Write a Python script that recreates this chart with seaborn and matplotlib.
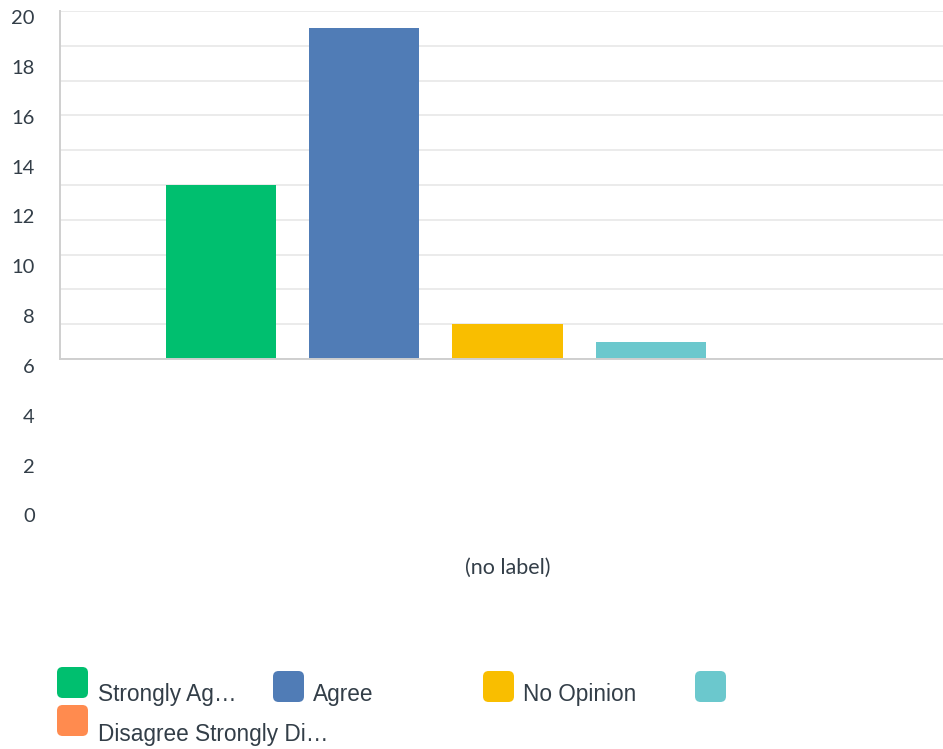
import matplotlib
matplotlib.use("Agg")
import matplotlib.pyplot as plt
from matplotlib.patches import FancyBboxPatch
import pandas as pd
import seaborn as sns

# Survey responses for a single unlabelled question
group_label = "(no label)"
responses = ["Strongly Agree", "Agree", "No Opinion", "Disagree", "Strongly Disagree"]
counts = [10, 19, 2, 1, 0]
colors = ["#00BF6F", "#507CB6", "#F9BE00", "#6BC8CD", "#FF8B4F"]
legend_labels = ["Strongly Ag\u2026", "Agree", "No Opinion", "", "Disagree Strongly Di\u2026"]
y_ticks = list(range(0, 21, 2))

TEXT = "#333E48"
W, H = 943, 749

sns.set_theme(style="white")
plt.rcParams["font.family"] = ["Lato", "DejaVu Sans"]

df = pd.DataFrame({"group": [group_label] * len(responses),
                   "response": responses,
                   "count": counts})

fig = plt.figure(figsize=(W / 100, H / 100), dpi=100)


def px_box(left, top, right, bottom):
    return [left / W, 1 - bottom / H, (right - left) / W, (bottom - top) / H]


# main plotting area
ax = fig.add_axes(px_box(60, 11, 955, 359))
sns.barplot(data=df, x="group", y="count", hue="response", hue_order=responses,
            palette=colors, width=0.8, gap=0.23, linewidth=0, legend=False,
            saturation=1, ax=ax)
ax.set_xlim(-0.5, 0.5)
ax.set_ylim(0, 20)
ax.set_yticks(y_ticks)
ax.set_yticklabels([])
ax.tick_params(axis="y", length=0)
ax.yaxis.grid(True, color="#EBEBEB", linewidth=1.4)
ax.set_axisbelow(True)
ax.set_xlabel("")
ax.set_ylabel("")
ax.tick_params(axis="x", length=0, pad=143, labelsize=15.5, labelcolor=TEXT)
for side in ("top", "right"):
    ax.spines[side].set_visible(False)
for side in ("left", "bottom"):
    ax.spines[side].set_color("#CFCFCF")
    ax.spines[side].set_linewidth(1.4)

# value scale drawn along the full left margin
ax_scale = fig.add_axes(px_box(35, 17, 36, 515.5))
ax_scale.set_ylim(0, 20)
ax_scale.set_yticks(y_ticks)
ax_scale.set_yticklabels([str(v) for v in y_ticks])
ax_scale.tick_params(axis="y", length=0, pad=0, labelsize=14.5, labelcolor=TEXT)
ax_scale.set_xticks([])
ax_scale.patch.set_visible(False)
for s in ax_scale.spines.values():
    s.set_visible(False)

# legend: rounded swatches with labels
legend_items = [
    (57, 667, 98, 694),
    (273, 671, 313, 694),
    (483, 671, 523, 694),
    (695, 671, 735, 694),
    (57, 705, 98, 735),
]
sw = 31
for (sx, sy, tx, ty), col, lab in zip(legend_items, colors, legend_labels):
    fig.patches.append(FancyBboxPatch(
        (sx / W, 1 - (sy + sw) / H), sw / W, sw / H,
        boxstyle="round,pad=0,rounding_size=0.006",
        transform=fig.transFigure, facecolor=col, edgecolor="none",
        mutation_aspect=W / H))
    if lab:
        fig.text(tx / W, 1 - ty / H, lab, fontsize=16.3, color=TEXT,
                 family=["Liberation Sans", "DejaVu Sans"],
                 ha="left", va="center")

fig.savefig("out.png", dpi=100)
